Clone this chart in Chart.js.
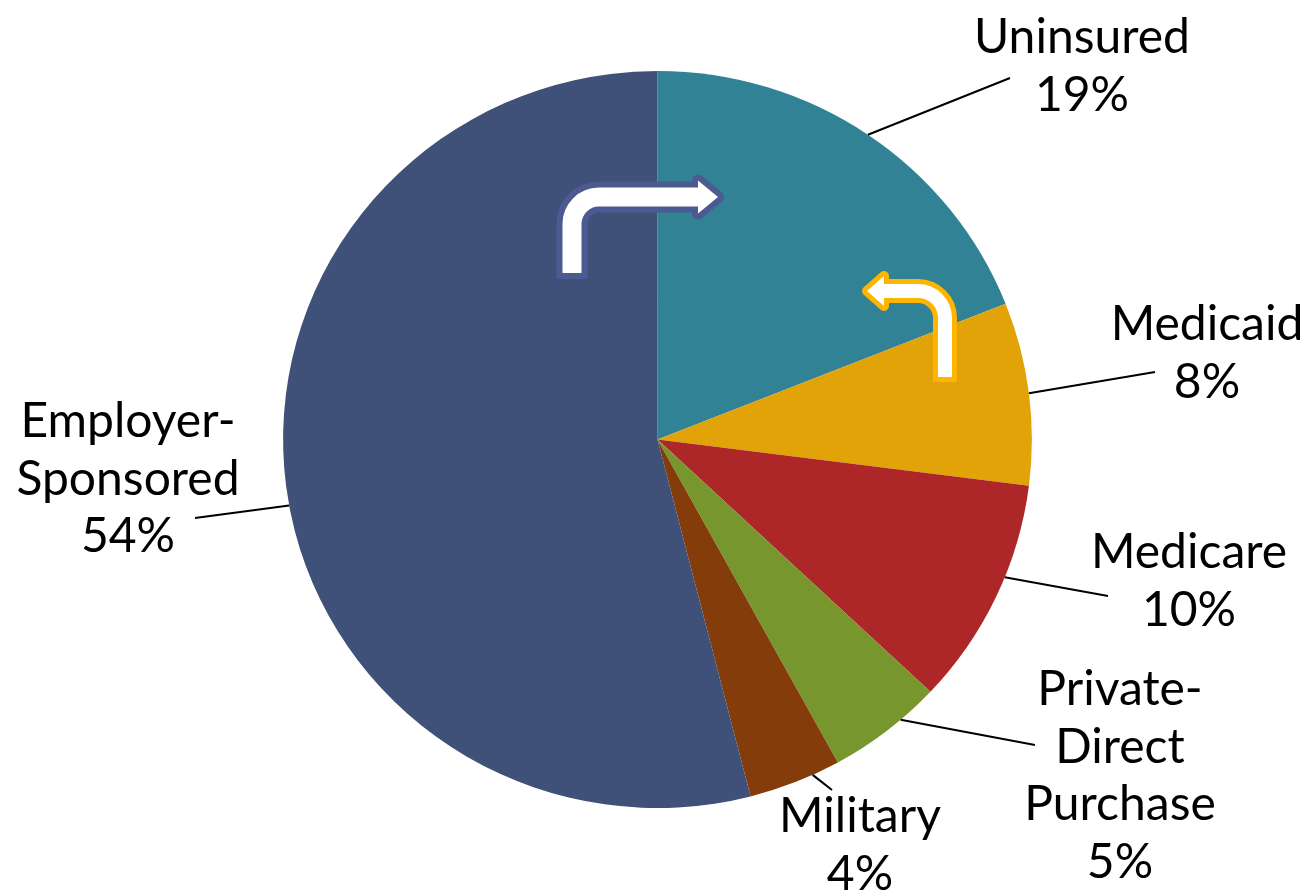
<!DOCTYPE html>
<html><head><meta charset="utf-8">
<script src="https://cdn.jsdelivr.net/npm/chart.js@4"></script>
<style>html,body{margin:0;padding:0;background:#fff}#wrap{width:1304px;height:890px;position:relative}</style>
</head><body><div id="wrap"><canvas id="c" width="1304" height="890"></canvas></div>
<script>
const categories = ["Uninsured", "Medicaid", "Medicare", "Private-Direct Purchase", "Military", "Employer-Sponsored"];
const shares = [19, 8, 10, 5, 4, 54];
const labelLines = [["Uninsured","19%"],["Medicaid","8%"],["Medicare","10%"],["Private-","Direct","Purchase","5%"],["Military","4%"],["Employer-","Sponsored","54%"]];
const colors = ["#318294", "#E2A309", "#AD2729", "#77962E", "#843C0A", "#3F5079"];

// label layout (x center, first baseline, leader end, leader start fraction along the arc)
const labelLayout = [
  {x:1082, y:53, lx:1010, ly:78, f:0.5},
  {x:1207, y:340, lx:1155, ly:372, f:0.5},
  {x:1189, y:568, lx:1108, ly:596, f:0.41},
  {x:1120, y:705, lx:1035, ly:745, f:0.35},
  {x:860, y:832, lx:832, ly:790, f:0.3},
  {x:128, y:437, lx:195, ly:518, f:0.484}
];
const FONT = '48px Lato, "Gill Sans", sans-serif';
const LINE_H = 57.5;
const XSCALE = 1.016;

const stretchPlugin = {
  id: 'stretch',
  beforeDatasetsDraw(chart) {
    const a = chart.getDatasetMeta(0).data[0];
    chart.ctx.save();
    chart.ctx.translate(a.x, 0);
    chart.ctx.scale(XSCALE, 1);
    chart.ctx.translate(-a.x, 0);
  },
  afterDatasetsDraw(chart) { chart.ctx.restore(); }
};

const labelsPlugin = {
  id: 'pieLabels',
  afterDraw(chart) {
    const ctx = chart.ctx;
    const meta = chart.getDatasetMeta(0);
    ctx.save();
    drawArrow(ctx, [[572,279],[572,197],[700,197]], 27, 19, 6, '#4B5B91', {bx:698, tip:718, half:16.5});
    drawArrow(ctx, [[945,382],[945,291],[883,291]], 27, 14, 5, '#FFB400', {bx:884, tip:867, half:15});
    meta.data.forEach((arc, i) => {
      const L = labelLayout[i];
      const ang = arc.startAngle + (arc.endAngle - arc.startAngle) * L.f;
      const r = arc.outerRadius;
      const sx = arc.x + Math.cos(ang) * r * XSCALE;
      const sy = arc.y + Math.sin(ang) * r;
      ctx.strokeStyle = '#000';
      ctx.lineWidth = 2;
      ctx.beginPath();
      ctx.moveTo(sx, sy);
      ctx.lineTo(L.lx, L.ly);
      ctx.stroke();
      ctx.fillStyle = '#000';
      ctx.font = FONT;
      ctx.textAlign = 'center';
      ctx.textBaseline = 'alphabetic';
      labelLines[i].forEach((t, k) => ctx.fillText(t, L.x, L.y + k * LINE_H));
    });
    ctx.restore();
  }
};

function drawArrow(ctx, pts, radius, w, ow, ocol, head) {
  function shaft(extra) {
    ctx.beginPath();
    ctx.moveTo(pts[0][0], pts[0][1] + extra);
    ctx.arcTo(pts[1][0], pts[1][1], pts[2][0], pts[2][1], radius);
    ctx.lineTo(pts[2][0], pts[2][1]);
  }
  function headPath() {
    const y = pts[2][1];
    ctx.beginPath();
    ctx.moveTo(head.bx, y - head.half);
    ctx.lineTo(head.tip, y);
    ctx.lineTo(head.bx, y + head.half);
    ctx.closePath();
  }
  ctx.lineCap = 'butt';
  ctx.lineJoin = 'round';
  ctx.strokeStyle = ocol; ctx.fillStyle = ocol;
  shaft(0); ctx.lineWidth = w + 2 * ow; ctx.stroke();
  headPath(); ctx.lineWidth = 2 * ow; ctx.fill(); ctx.stroke();
  ctx.strokeStyle = '#fff'; ctx.fillStyle = '#fff';
  shaft(-ow); ctx.lineWidth = w; ctx.stroke();
  headPath(); ctx.fill();
}

new Chart(document.getElementById('c'), {
  type: 'pie',
  data: {
    labels: categories,
    datasets: [{ data: shares, backgroundColor: colors, borderWidth: 0 }]
  },
  options: {
    responsive: false,
    animation: false,
    layout: { padding: { left: 289, right: 278, top: 71, bottom: 82 } },
    plugins: { legend: { display: false }, tooltip: { enabled: false } }
  },
  plugins: [stretchPlugin, labelsPlugin]
});
</script>
</body></html>
